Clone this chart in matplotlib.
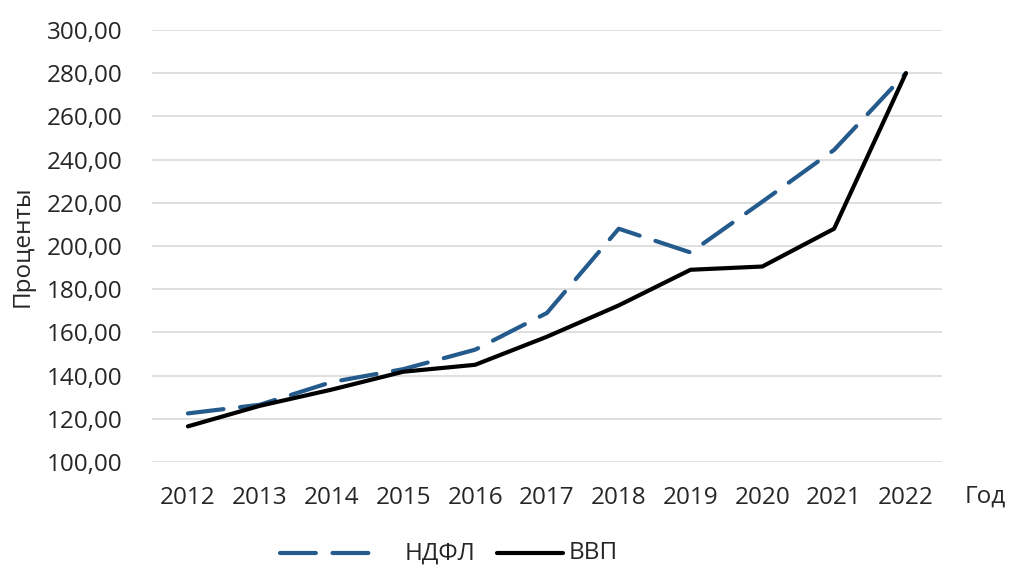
import numpy as np
import matplotlib
matplotlib.use("Agg")
import matplotlib.pyplot as plt
from matplotlib.lines import Line2D
from matplotlib.ticker import FuncFormatter

years = ["2012", "2013", "2014", "2015", "2016", "2017", "2018", "2019", "2020", "2021", "2022"]
ndfl = [122.5, 126.5, 137.0, 143.0, 152.0, 169.0, 208.0, 197.0, 220.5, 244.5, 280.0]
vvp = [116.5, 126.0, 133.5, 141.8, 145.0, 158.0, 172.5, 189.0, 190.5, 208.0, 280.0]

plt.rcParams["font.family"] = ["Open Sans", "DejaVu Sans"]
FS = 17.5
TXT = "#262626"
BLUE = "#245B8C"
DASH = (8.6, 4.0)

fig = plt.figure(figsize=(10.1, 5.68), dpi=100)
ax = fig.add_axes([0.1505, 0.1866, 0.782, 0.7606])

x = np.arange(len(years))
ax.plot(x, ndfl, color=BLUE, lw=3, dashes=DASH, dash_capstyle="round",
        solid_joinstyle="round")
ax.plot(x, vvp, color="black", lw=3, solid_capstyle="round", solid_joinstyle="round")

ax.set_xlim(-0.5, len(years) - 0.5)
ax.set_ylim(100, 300)
ax.set_yticks(np.arange(100, 301, 20))
ax.yaxis.set_major_formatter(FuncFormatter(lambda v, p: f"{v:.2f}".replace(".", ",")))
ax.set_xticks(x)
ax.set_xticklabels(years)
ax.tick_params(axis="both", length=0, labelsize=FS, colors=TXT)
ax.tick_params(axis="x", pad=17.5)
ax.tick_params(axis="y", pad=21)
ax.grid(axis="y", color="#D9D9D9", lw=1.2)
ax.set_axisbelow(True)
for s in ax.spines.values():
    s.set_visible(False)

fig.text(0.022, 0.567, "Проценты", fontsize=FS, color=TXT, rotation=90,
         ha="center", va="center")
fig.text(0.955, 0.125, "Год", fontsize=FS, color=TXT, va="center")

# legend drawn by hand so handle lengths match
ly = 0.026
fig.add_artist(Line2D([0.277, 0.371], [ly, ly], color=BLUE, lw=3, dashes=DASH,
                      dash_capstyle="round", transform=fig.transFigure))
fig.text(0.401, ly, "НДФЛ", fontsize=FS, color=TXT, va="center")
fig.add_artist(Line2D([0.492, 0.557], [ly, ly], color="black", lw=3,
                      solid_capstyle="round", transform=fig.transFigure))
fig.text(0.563, ly, "ВВП", fontsize=FS, color=TXT, va="center")

fig.savefig("out.png", dpi=100)
